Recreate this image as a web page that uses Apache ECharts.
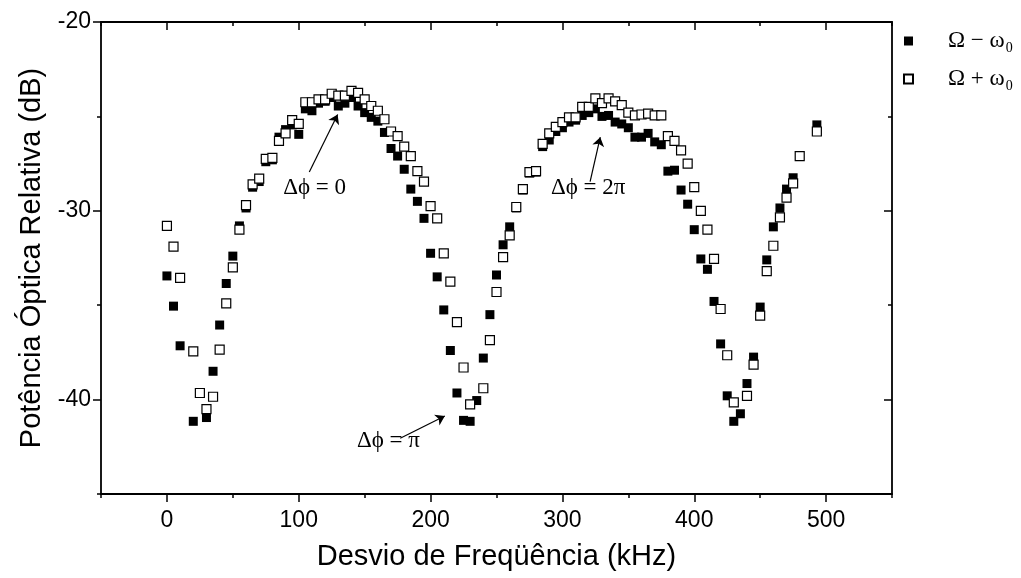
<!DOCTYPE html>
<html><head><meta charset="utf-8">
<script src="https://cdn.jsdelivr.net/npm/echarts@6/dist/echarts.min.js"></script>
<style>html,body{margin:0;padding:0;background:#fff}#c{width:1021px;height:578px}</style>
</head><body><div id="c"></div>
<script>
// ---- data ----
const freqMinus = [0,5,10,20,30,35,40,45,50,55,60,65,70,75,80,85,90,95,100,
  105,110,115,120,125,130,135,140,145,150,155,160,165,170,175,180,185,190,195,200,
  205,210,215,220,225,230,235,240,245,250,255,260,265,270,275,280,285,290,295,300,
  305,310,315,320,325,330,335,340,345,350,355,360,365,370,375,380,385,390,395,400,
  405,410,415,420,425,430,435,440,445,450,455,460,465,470,475,493];
const powerMinus = [-33.45,-35.05,-37.15,-41.15,-40.95,-38.5,-36.05,-33.85,-32.4,-30.8,-29.85,-28.75,-28.45,-27.4,-27.3,-26.1,-25.7,-25.45,-25.95,
  -24.6,-24.7,-24.3,-24.2,-24.0,-24.45,-24.3,-24.0,-24.45,-24.8,-25.05,-25.25,-25.85,-26.7,-27.1,-27.8,-28.85,-29.5,-30.4,-32.25,
  -33.5,-35.25,-37.4,-39.65,-41.1,-41.15,-40.05,-37.8,-35.5,-33.4,-31.8,-30.85,-29.85,-28.9,-28.0,-27.95,-26.6,-26.25,-25.8,-25.6,
  -25.3,-25.2,-24.95,-24.8,-24.6,-25.0,-24.95,-25.3,-25.4,-25.6,-26.1,-26.1,-25.9,-26.35,-26.5,-27.9,-27.85,-28.9,-29.65,-31.0,
  -32.55,-33.1,-34.8,-37.05,-39.8,-41.15,-40.75,-39.15,-37.75,-35.1,-32.6,-30.85,-29.85,-28.85,-28.25,-25.45];
const freqPlus = [0,5,10,20,25,30,35,40,45,50,55,60,65,70,75,80,85,90,95,100,
  105,110,115,120,125,130,135,140,145,150,155,160,165,170,175,180,185,190,195,200,205,210,215,220,225,230,
  240,245,250,255,260,265,270,275,280,285,290,295,300,305,310,315,320,325,330,335,
  340,345,350,355,360,365,370,375,380,385,390,395,400,405,410,415,420,425,430,
  440,445,450,455,460,465,470,475,480,493];
const powerPlus = [-30.8,-31.9,-33.55,-37.45,-39.65,-40.5,-39.85,-37.35,-34.9,-33.0,-31.0,-29.7,-28.6,-28.3,-27.25,-27.2,-26.3,-25.9,-25.2,-25.4,
  -24.25,-24.25,-24.1,-24.1,-23.8,-23.9,-23.9,-23.65,-23.75,-24.1,-24.45,-24.7,-25.15,-25.8,-26.05,-26.6,-27.1,-27.9,-28.45,-29.75,-30.4,-32.25,-33.75,-35.9,-38.3,-40.25,
  -39.4,-36.85,-34.3,-32.45,-31.3,-29.8,-28.85,-27.95,-27.9,-26.45,-25.9,-25.55,-25.3,-25.05,-25.05,-24.5,-24.5,-24.05,-24.3,-24.05,
  -24.2,-24.4,-24.8,-24.95,-24.9,-24.85,-24.95,-24.95,-26.05,-26.3,-26.8,-27.5,-28.75,-30.0,-31.0,-32.55,-35.2,-37.65,-40.15,
  -39.8,-38.15,-35.55,-33.2,-31.85,-30.35,-29.3,-28.55,-27.1,-25.8];
const xMajorTicks = [0,100,200,300,400,500];
const xMinorTicks = [-50,50,150,250,350,450,550];
const yMajorTicks = [-40,-30,-20];
const yMinorTicks = [-45,-35,-25];
const seriesNames = ['Ω − ω0','Ω + ω0'];
const xTitle = 'Desvio de Freqüência (kHz)';
const yTitle = 'Potência Óptica Relativa (dB)';
const annotationTexts = ['Δϕ = 0','Δϕ = 2π','Δϕ = π'];
const annotationTextAt = [[112,-28.8],[319.5,-28.8],[168,-42.2]];
const annotationArrowFrom = [[108,-27.95],[321,-28.45],[177,-42.05]];
const annotationArrowTo = [[129.5,-24.9],[328.7,-26.1],[210.8,-40.87]];

// ---- chart ----
const pairs = (xs, ys) => xs.map((x, i) => [x, ys[i]]);
const black = '#000';
const gridPos = {left: 101, right: 129, top: 22, bottom: 84};
function xAx(grid, pos, ticks, len, inside, main) {
  return {
    type: 'value', gridIndex: grid, position: pos, min: -50, max: 550,
    axisLine: {show: main, onZero: false, lineStyle: {color: black, width: 1.8}},
    axisTick: {show: true, customValues: ticks, inside: inside, length: len, lineStyle: {color: black, width: 1.5}},
    axisLabel: main && pos === 'bottom' ? {show: true, customValues: xMajorTicks, color: black, fontSize: 23, fontFamily: 'Liberation Sans', margin: 15} : {show: false},
    splitLine: {show: false},
    name: main && pos === 'bottom' ? xTitle : '',
    nameLocation: 'middle', nameGap: 48,
    nameTextStyle: {color: black, fontSize: 29, fontFamily: 'Liberation Sans'}
  };
}
function yAx(grid, pos, ticks, len, inside, main) {
  return {
    type: 'value', gridIndex: grid, position: pos, min: -45, max: -20,
    axisLine: {show: main, onZero: false, lineStyle: {color: black, width: 1.8}},
    axisTick: {show: true, customValues: ticks, inside: inside, length: len, lineStyle: {color: black, width: 1.5}},
    axisLabel: main && pos === 'left' ? {show: true, customValues: yMajorTicks, color: black, fontSize: 23, fontFamily: 'Liberation Sans', margin: 10} : {show: false},
    splitLine: {show: false},
    name: main && pos === 'left' ? yTitle : '',
    nameLocation: 'middle', nameGap: 50, nameRotate: 90,
    nameTextStyle: {color: black, fontSize: 29, fontFamily: 'Liberation Sans'}
  };
}

const chart = echarts.init(document.getElementById('c'), null, {renderer: 'canvas'});
chart.setOption({
  animation: false,
  backgroundColor: '#fff',
  grid: [Object.assign({}, gridPos), Object.assign({}, gridPos)],
  xAxis: [
    xAx(0, 'bottom', xMajorTicks, 8, false, true),
    xAx(0, 'top', xMajorTicks, 8, true, true),
    xAx(1, 'bottom', xMinorTicks, 4, false, false),
    xAx(1, 'top', xMinorTicks, 4, true, false)
  ],
  yAxis: [
    yAx(0, 'left', yMajorTicks, 8, false, true),
    yAx(0, 'right', yMajorTicks, 8, true, true),
    yAx(1, 'left', yMinorTicks, 4, false, false),
    yAx(1, 'right', yMinorTicks, 4, true, false)
  ],
  legend: {
    orient: 'vertical', left: 898, top: 22,
    itemWidth: 9, itemHeight: 9, itemGap: 10,
    data: seriesNames,
    formatter: n => '{m|' + n.slice(0, -1) + '}{s|' + n.slice(-1) + '}',
    textStyle: {
      padding: [0, 0, 0, 30],
      rich: {
        m: {fontFamily: 'Liberation Serif', fontSize: 23, color: black, lineHeight: 28},
        s: {fontFamily: 'Liberation Serif', fontSize: 14, color: black, lineHeight: 28, padding: [14, 0, 0, 1]}
      }
    }
  },
  series: [
    {
      name: seriesNames[0], type: 'scatter', xAxisIndex: 0, yAxisIndex: 0,
      symbol: 'rect', symbolSize: 9,
      itemStyle: {color: black, opacity: 1},
      data: pairs(freqMinus, powerMinus),
      markLine: {
        silent: true, symbol: ['none', 'arrow'], symbolSize: 9,
        lineStyle: {color: black, width: 1.2, type: 'solid'},
        label: {show: false},
        data: annotationArrowFrom.map((f, i) => [{coord: f}, {coord: annotationArrowTo[i]}])
      },
      markPoint: {
        silent: true, symbol: 'circle', symbolSize: 1,
        itemStyle: {color: 'rgba(0,0,0,0)'},
        label: {show: true, position: 'inside', formatter: '{b}', color: black, fontSize: 23, fontFamily: '"Liberation Serif", "DejaVu Serif", serif'},
        data: annotationTexts.map((t, i) => ({name: t, coord: annotationTextAt[i]}))
      }
    },
    {
      name: seriesNames[1], type: 'scatter', xAxisIndex: 0, yAxisIndex: 0,
      symbol: 'rect', symbolSize: 9,
      itemStyle: {color: '#fff', borderColor: black, borderWidth: 1.2, opacity: 1},
      data: pairs(freqPlus, powerPlus)
    }
  ]
});
</script></body></html>
